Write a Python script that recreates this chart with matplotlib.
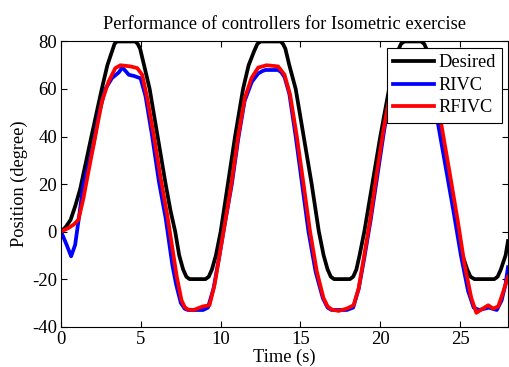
import numpy as np
import matplotlib
matplotlib.use('Agg')
import matplotlib.pyplot as plt

plt.rcParams['font.family'] = ['Liberation Serif', 'DejaVu Serif']
plt.rcParams['axes.unicode_minus'] = False

# values
t_desired = [0, 0.3, 0.6, 0.9, 1.2, 1.9, 2.55, 2.9, 3.2, 3.35, 3.5, 4.65, 4.8, 4.95, 5.2, 5.55,
             6.05, 6.55, 6.85, 7.15, 7.4, 7.65, 7.85, 8.05, 9.05, 9.25, 9.45, 9.7, 10.0, 10.45,
             10.9, 11.4, 11.75, 12.1, 12.3, 12.5, 13.75, 13.9, 14.05, 14.3, 14.7, 15.2, 15.7,
             16.15, 16.45, 16.7, 16.9, 17.1, 18.1, 18.3, 18.5, 18.7, 19.0, 19.5, 20.0, 20.55,
             20.9, 21.1, 21.3, 21.5, 22.55, 22.75, 22.95, 23.15, 23.35, 23.85, 24.35, 24.85,
             25.15, 25.45, 25.65, 25.9, 27.15, 27.35, 27.55, 27.85, 28.0]
desired = [0, 2, 5, 11, 18, 40, 60, 70, 76, 79, 80, 80, 79, 77, 70, 60,
           40, 20, 9, 0, -10, -16, -19, -20, -20, -19, -16, -10, 0, 20,
           40, 60, 70, 76, 79, 80, 80, 79, 77, 70, 60, 40, 20,
           0, -10, -16, -19, -20, -20, -19, -16, -10, 0, 20, 40, 60,
           70, 76, 79, 80, 80, 79, 76, 70, 60, 40, 20, 0,
           -10, -16, -19, -20, -20, -19, -16, -10, -4]

t_rivc = [0, 0.35, 0.63, 0.88, 1.1, 1.4, 1.72, 2.04, 2.35, 2.77, 3.19, 3.62, 3.83, 4.05, 4.24,
          4.56, 4.98, 5.29, 5.71, 6.13, 6.55, 6.97, 7.2, 7.5, 7.75, 7.95, 8.9, 9.2, 9.55, 9.9,
          10.25, 10.7, 11.1, 11.5, 11.95, 12.35, 12.6, 12.8, 13.6, 13.8, 14.0, 14.3, 14.7, 15.1,
          15.5, 15.95, 16.4, 16.7, 16.95, 17.9, 18.3, 18.65, 19.0, 19.4, 19.85, 20.25, 20.65,
          21.0, 21.4, 22.7, 23.0, 23.3, 23.6, 24.1, 24.6, 25.05, 25.5, 25.85, 26.2, 26.8, 27.3,
          27.6, 27.85, 28.0]
rivc = [0, -5.6, -10.4, -5.6, 5, 20, 28, 37, 49, 60, 64.6, 67, 69, 67.5, 66,
        65.5, 64.5, 57, 40, 21, 5.7, -14, -22, -30, -32.5, -33, -33, -32, -24, -11,
        3, 20, 39, 55, 63, 66.5, 67.5, 68, 68, 67, 65, 58, 40, 20,
        0, -17, -28, -32, -33, -33, -32, -24, -11, 5, 25, 43, 58,
        65, 67, 67, 64, 57, 46, 27, 8, -10, -25, -32, -33, -32, -33,
        -29, -22, -15]

t_rfivc = [0, 0.46, 0.8, 1.09, 1.4, 1.72, 2.14, 2.56, 2.98, 3.4, 3.72, 4.35, 4.77, 5.08, 5.4,
           5.82, 6.24, 6.65, 6.95, 7.25, 7.55, 7.75, 7.95, 8.3, 8.88, 9.3, 9.62, 9.93, 10.25,
           10.67, 11.09, 11.51, 11.93, 12.35, 12.87, 13.6, 14.0, 14.35, 14.77, 15.19, 15.6,
           16.02, 16.44, 16.7, 16.96, 17.38, 17.9, 18.33, 18.64, 18.96, 19.38, 19.8, 20.22,
           20.64, 20.96, 21.3, 21.6, 22.6, 22.95, 23.3, 23.55, 23.8, 24.33, 24.86, 25.28, 25.7,
           26.02, 26.33, 26.76, 27.07, 27.39, 27.7, 28.0]
rfivc = [0, 1.5, 3, 5, 14, 25.4, 40, 54.8, 63.2, 68.8, 70, 69.5, 68.8, 66, 56.2,
         40, 22.5, 7.1, -6, -19, -29, -31.8, -32.8, -33, -31.5, -31, -22.3, -9.7, 2.9,
         20, 40, 56.2, 64.6, 69, 70, 69.5, 66, 57.6, 40, 20, 0,
         -16.7, -27.9, -31.5, -32.8, -33.4, -32.4, -31, -24, -11.3, 5.7, 25.4, 43.6,
         59, 66, 69, 70, 69.5, 67, 62, 55, 46, 25.4, 4.3, -13.9, -27.9,
         -34.2, -32.8, -31, -32.4, -31.5, -25.4, -19]

fig = plt.figure(figsize=(5.09, 3.67), dpi=100)
ax = fig.add_axes([0.12, 0.110, 0.878, 0.777])

lw = 2.7
ax.plot(t_desired, desired, color='black', lw=lw, label='Desired', solid_joinstyle='round')
ax.plot(t_rivc, rivc, color='blue', lw=lw, label='RIVC', solid_joinstyle='round')
ax.plot(t_rfivc, rfivc, color='red', lw=lw, label='RFIVC', solid_joinstyle='round')

ax.set_xlim(0, 28)
ax.set_ylim(-40, 80)
ax.set_xticks([0, 5, 10, 15, 20, 25])
ax.set_yticks([-40, -20, 0, 20, 40, 60, 80])
ax.tick_params(direction='in', top=True, right=True, labelsize=13.5, length=4, width=0.8, pad=3)
for s in ax.spines.values():
    s.set_linewidth(0.8)

ax.set_title('Performance of controllers for Isometric exercise', fontsize=13.2, pad=9)
ax.set_xlabel('Time (s)', fontsize=13.2, labelpad=0.5)
ax.set_ylabel('Position (degree)', fontsize=13.2, labelpad=3)

leg = ax.legend(loc='upper right', bbox_to_anchor=(0.987, 0.977), borderaxespad=0,
                fontsize=13.2, fancybox=False, framealpha=1, edgecolor='black',
                handlelength=2.2, handletextpad=0.25, labelspacing=0.3, borderpad=0.35)
leg.get_frame().set_linewidth(0.8)

plt.savefig('out.png', dpi=100)
